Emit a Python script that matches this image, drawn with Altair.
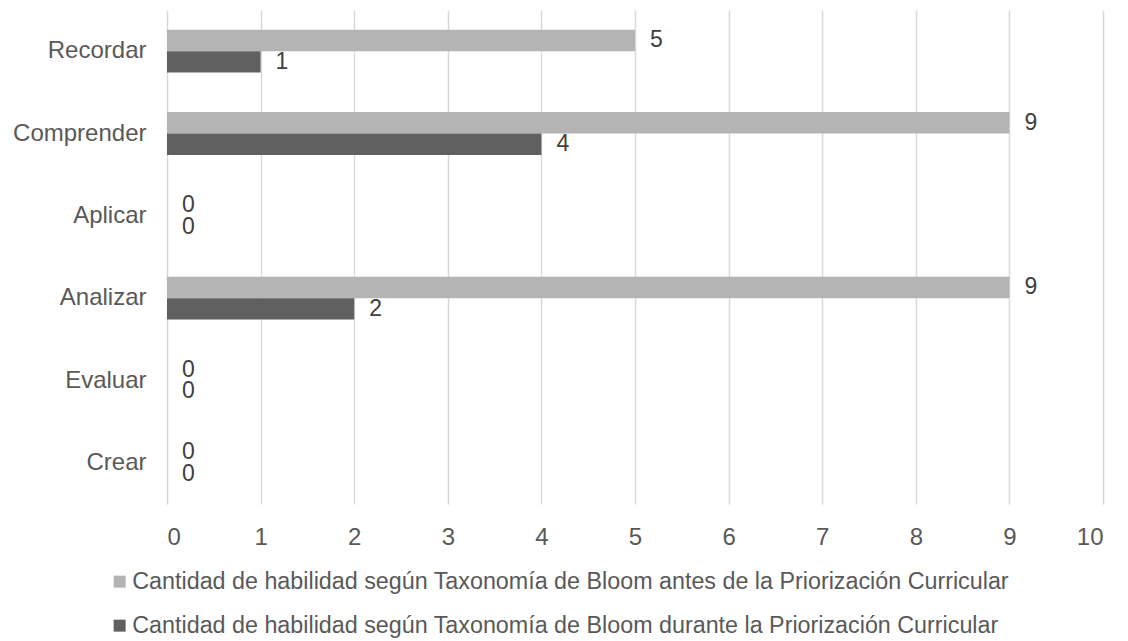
import altair as alt
import pandas as pd

categories = ["Recordar", "Comprender", "Aplicar", "Analizar", "Evaluar", "Crear"]
antes = [5, 9, 0, 9, 0, 0]
durante = [1, 4, 0, 2, 0, 0]
series_names = [
    "Cantidad de habilidad según Taxonomía de Bloom antes de la Priorización Curricular",
    "Cantidad de habilidad según Taxonomía de Bloom durante la Priorización Curricular",
]
colors = ["#b4b4b4", "#606060"]
x_ticks = list(range(0, 11))

rows = []
for i, c in enumerate(categories):
    rows.append({"cat": c, "serie": series_names[0], "val": antes[i]})
    rows.append({"cat": c, "serie": series_names[1], "val": durante[i]})
df = pd.DataFrame(rows)

FONT = "Liberation Sans"
TXT = "#595959"

y_enc = alt.Y("cat:N", sort=categories, title=None,
              scale=alt.Scale(paddingInner=0.48, paddingOuter=0.24),
              axis=alt.Axis(domain=False, ticks=False, labelFontSize=24, labelFont=FONT,
                            labelColor=TXT, labelPadding=21, grid=False))
yoff = alt.YOffset("serie:N", scale=alt.Scale(domain=series_names))
x_enc = alt.X("val:Q", title=None,
              scale=alt.Scale(domain=[0, 10], nice=False),
              axis=alt.Axis(values=x_ticks, domain=False, ticks=False, grid=True,
                            gridColor="#d9d9d9", gridWidth=1.5,
                            labelFontSize=24, labelFont=FONT, labelColor=TXT,
                            labelPadding=21, format="d"))

bars = alt.Chart(df).mark_bar().encode(
    y=y_enc, yOffset=yoff, x=x_enc,
    color=alt.Color("serie:N", title=None,
                    scale=alt.Scale(domain=series_names, range=colors),
                    legend=alt.Legend(orient="none", legendX=-59, legendY=560,
                                      direction="vertical", symbolType="square",
                                      symbolSize=144, symbolStrokeWidth=0,
                                      labelFontSize=23.3, labelFont=FONT, labelColor=TXT,
                                      labelOffset=1, rowPadding=20, labelLimit=1200)),
)

labels = alt.Chart(df).mark_text(align="left", baseline="middle", dx=15,
                                 fontSize=23, font=FONT, color="#404040").encode(
    y=alt.Y("cat:N", sort=categories), yOffset=alt.YOffset("serie:N", scale=alt.Scale(domain=series_names)),
    x="val:Q", text="val:Q",
)

chart = (bars + labels).properties(
    width=936, height=494,
    autosize=alt.AutoSizeParams(type="none"),
    padding={"left": 159, "top": 2, "right": 17, "bottom": 150},
).configure_view(stroke=None)

chart.save("out.html", embed_options={"renderer": "svg", "actions": False})
